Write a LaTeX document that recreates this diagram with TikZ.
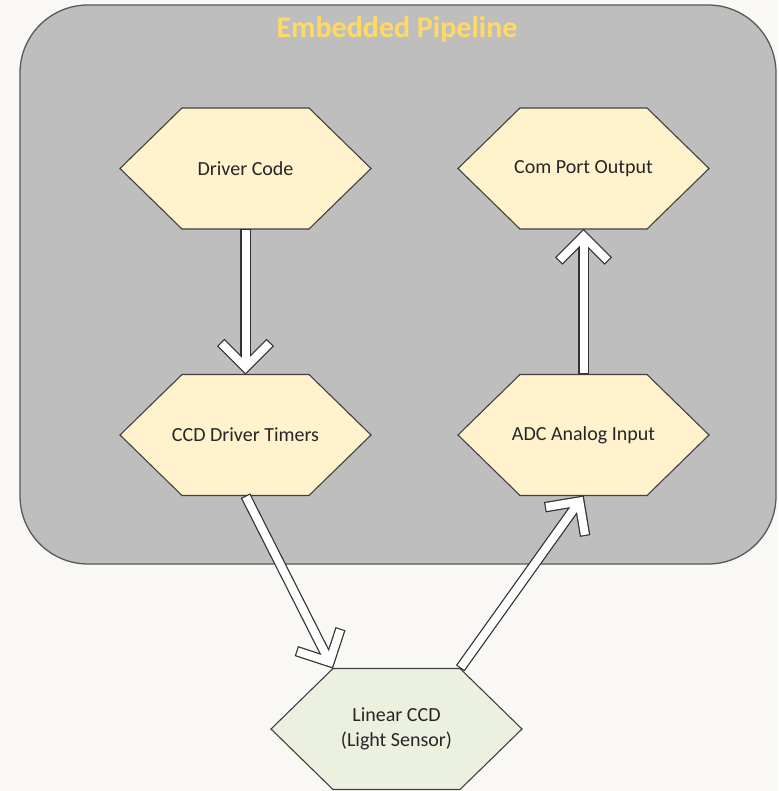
\documentclass[tikz,border=0pt]{standalone}
\usepackage{fontspec}
\setmainfont{Carlito}
\usetikzlibrary{calc}
\definecolor{bg}{HTML}{F9F8F4}
\definecolor{panel}{HTML}{BEBEBE}
\definecolor{panelline}{HTML}{595959}
\definecolor{hexY}{HTML}{FFF2CC}
\definecolor{hexG}{HTML}{EBF1DE}
\definecolor{titlecol}{HTML}{FFD966}
\definecolor{ink}{HTML}{262626}
\definecolor{hexline}{HTML}{404040}
\definecolor{arrline}{HTML}{333333}

\tikzset{
 hexlabel/.style={shape=rectangle, minimum width=251pt, minimum height=121pt, inner sep=0pt, align=center, font=\fontsize{20}{25}\selectfont, text=ink},
 hexborder/.style={draw=hexline, line width=1.1pt, line join=miter},
 arrowout/.style={draw=arrline, line width=10.5pt, line join=miter, miter limit=10},
 arrowin/.style={draw=white, line width=8pt, line join=miter, miter limit=10},
}

\newcommand{\hexat}[3]{%
 \filldraw[hexborder, fill=#3] (#1-125.5,#2) -- (#1-63.5,#2-60.5) -- (#1+63.5,#2-60.5) -- (#1+125.5,#2) -- (#1+63.5,#2+60.5) -- (#1-63.5,#2+60.5) -- cycle;}

\newcommand{\blockarrow}[2]{%
 \coordinate (ba-c) at ($(#2)!7.1pt!(#1)$);
 \coordinate (ba-l) at ($(ba-c)!35pt!45:(#1)$);
 \coordinate (ba-r) at ($(ba-c)!35pt!-45:(#1)$);
 \coordinate (ba-li) at ($(ba-c)!33.8pt!45:(#1)$);
 \coordinate (ba-ri) at ($(ba-c)!33.8pt!-45:(#1)$);
 \coordinate (ba-s) at ($(#1)!1.2pt!(ba-c)$);
 \draw[arrowout] (#1) -- (ba-c);
 \draw[arrowout] (ba-l) -- (ba-c) -- (ba-r);
 \draw[arrowin] (ba-s) -- (ba-c);
 \draw[arrowin] (ba-li) -- (ba-c) -- (ba-ri);
}

\begin{document}
\begin{tikzpicture}[x=1pt, y=-1pt]
\fill[bg] (0,0) rectangle (778,791);
\useasboundingbox (0,0) rectangle (778,791);

\draw[draw=panelline, fill=panel, line width=1.3pt, rounded corners=68pt] (20,5) rectangle (776,564);
\node[font=\fontsize{30}{36}\selectfont\bfseries, text=titlecol] (title) at (397,29) {Embedded Pipeline};

\hexat{245.5}{168.5}{hexY}
\hexat{583.5}{168.5}{hexY}
\hexat{245.5}{435}{hexY}
\hexat{583.5}{435}{hexY}
\hexat{396.5}{729}{hexG}

\node[hexlabel] (dc) at (245.5,168.5) {Driver Code};
\node[hexlabel] (cp) at (583.5,168.5) {Com Port Output};
\node[hexlabel] (ct) at (245.5,435) {CCD Driver Timers};
\node[hexlabel] (adc) at (583.5,435) {ADC Analog Input};
\node[hexlabel] (lin) at (396.5,729) {Linear CCD\\(Light Sensor)};

\coordinate (linTL) at ($(lin.north west)+(62,0)$);
\coordinate (linTR) at ($(lin.north east)+(-62,0)$);

\blockarrow{dc.south}{ct.north}
\blockarrow{ct.south}{linTL}
\blockarrow{linTR}{adc.south}
\blockarrow{adc.north}{cp.south}
\end{tikzpicture}
\end{document}
